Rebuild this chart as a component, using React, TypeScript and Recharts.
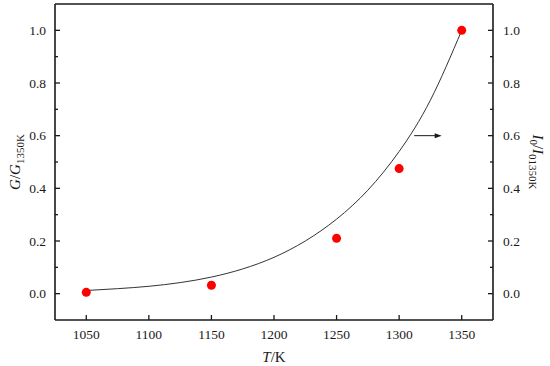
import React from "react";
import {
  ComposedChart,
  Line,
  Scatter,
  XAxis,
  YAxis,
  ReferenceLine,
} from "recharts";

// measured points
const tempPoints = [1050, 1150, 1250, 1300, 1350];
const ratioPoints = [0.005, 0.032, 0.21, 0.475, 1.0];

// fitted curve
const tempCurve = [1050, 1075, 1100, 1125, 1150, 1175, 1200, 1225, 1250, 1275, 1300, 1325, 1350];
const ratioCurve = [0.012, 0.019, 0.028, 0.042, 0.063, 0.094, 0.138, 0.2, 0.283, 0.393, 0.54, 0.735, 1.0];

const xTicks = [1050, 1075, 1100, 1125, 1150, 1175, 1200, 1225, 1250, 1275, 1300, 1325, 1350];
const xMajor = [1050, 1100, 1150, 1200, 1250, 1300, 1350];
const yTicks = [0, 0.1, 0.2, 0.3, 0.4, 0.5, 0.6, 0.7, 0.8, 0.9, 1.0];
const yMajor = ["0.0", "0.2", "0.4", "0.6", "0.8", "1.0"];

// arrow pointing at the right axis
const arrowFrom = [1312, 0.6];
const arrowTo = [1334, 0.6];

const points = tempPoints.map((t, i) => ({ t, v: ratioPoints[i] }));
const curve = tempCurve.map((t, i) => ({ t, v: ratioCurve[i] }));

const FONT = "'Liberation Serif', 'DejaVu Serif', serif";
const INK = "#1a1a1a";

const XTick = (props: any) => {
  const { x, y, payload } = props;
  const major = xMajor.includes(payload.value);
  return (
    <g>
      <line x1={x} x2={x} y1={y} y2={y - (major ? 5 : 3)} stroke={INK} strokeWidth={1.3} />
      {major && (
        <text x={x} y={y + 19} textAnchor="middle" fontSize={13.5} fill={INK} fontFamily={FONT}>
          {payload.value}
        </text>
      )}
    </g>
  );
};

const YTick = (props: any) => {
  const { x, y, payload, side } = props;
  const label = payload.value.toFixed(1);
  const major = yMajor.includes(label);
  const dir = side === "left" ? 1 : -1;
  return (
    <g>
      <line x1={x} x2={x + dir * (major ? 5 : 3)} y1={y} y2={y} stroke={INK} strokeWidth={1.3} />
      {major && (
        <text
          x={side === "left" ? x - 9 : x + 10}
          y={y + 4.5}
          textAnchor={side === "left" ? "end" : "start"}
          fontSize={13.5}
          fill={INK}
          fontFamily={FONT}
        >
          {label}
        </text>
      )}
    </g>
  );
};

const LeftTitle = (props: any) => {
  const { viewBox } = props;
  const cx = viewBox.x + 20;
  const cy = viewBox.y + viewBox.height / 2;
  return (
    <text x={cx} y={cy} transform={`rotate(-90, ${cx}, ${cy})`} textAnchor="middle" fontSize={15} fill={INK} fontFamily={FONT}>
      <tspan fontStyle="italic">G</tspan>
      <tspan>/</tspan>
      <tspan fontStyle="italic">G</tspan>
      <tspan fontSize={11} dy={4}>1350K</tspan>
    </text>
  );
};

const RightTitle = (props: any) => {
  const { viewBox } = props;
  const cx = viewBox.x + 40;
  const cy = viewBox.y + viewBox.height / 2;
  return (
    <text x={cx} y={cy} transform={`rotate(90, ${cx}, ${cy})`} textAnchor="middle" fontSize={15} fill={INK} fontFamily={FONT}>
      <tspan fontStyle="italic">I</tspan>
      <tspan fontSize={11} dy={3}>0</tspan>
      <tspan dy={-3}>/</tspan>
      <tspan fontStyle="italic">I</tspan>
      <tspan fontSize={11} dy={4}>01350K</tspan>
    </text>
  );
};

const XTitle = (props: any) => {
  const { viewBox } = props;
  const cx = viewBox.x + viewBox.width / 2;
  return (
    <text x={cx} y={viewBox.y + 42} textAnchor="middle" fontSize={15} fill={INK} fontFamily={FONT}>
      <tspan fontStyle="italic">T</tspan>
      <tspan>/K</tspan>
    </text>
  );
};

const Arrow = (props: any) => {
  const { x1, y1, x2, y2 } = props;
  return (
    <g>
      <line x1={x1} y1={y1} x2={x2 - 4} y2={y2} stroke={INK} strokeWidth={1} />
      <polygon points={`${x2},${y2} ${x2 - 7},${y2 - 2.5} ${x2 - 7},${y2 + 2.5}`} fill={INK} />
    </g>
  );
};

export default function App() {
  return (
    <div style={{ position: "absolute", left: 0, top: 0, width: 550, height: 366, background: "#fff" }}>
      <ComposedChart width={550} height={366} margin={{ top: 4, right: 0, left: 0, bottom: 0 }}>
        <XAxis
          type="number"
          dataKey="t"
          domain={[1025, 1375]}
          ticks={xTicks}
          allowDataOverflow
          height={46}
          tickSize={0}
          tickMargin={0}
          tickLine={false}
          axisLine={{ stroke: INK, strokeWidth: 1.6 }}
          tick={<XTick />}
          label={<XTitle />}
        />
        <YAxis
          yAxisId="left"
          type="number"
          domain={[-0.1, 1.1]}
          ticks={yTicks}
          allowDataOverflow
          width={55}
          tickSize={0}
          tickMargin={0}
          tickLine={false}
          axisLine={{ stroke: INK, strokeWidth: 1.6 }}
          tick={<YTick side="left" />}
          label={<LeftTitle />}
        />
        <YAxis
          yAxisId="right"
          orientation="right"
          type="number"
          domain={[-0.1, 1.1]}
          ticks={yTicks}
          allowDataOverflow
          width={57}
          tickSize={0}
          tickMargin={0}
          tickLine={false}
          axisLine={{ stroke: INK, strokeWidth: 1.6 }}
          tick={<YTick side="right" />}
          label={<RightTitle />}
        />
        <ReferenceLine yAxisId="left" y={1.1} stroke={INK} strokeWidth={1.6} />
        <ReferenceLine
          yAxisId="left"
          segment={[
            { x: arrowFrom[0], y: arrowFrom[1] },
            { x: arrowTo[0], y: arrowTo[1] },
          ]}
          shape={<Arrow />}
        />
        <Line
          yAxisId="left"
          data={curve}
          dataKey="v"
          type="natural"
          stroke="#333"
          strokeWidth={1}
          dot={false}
          isAnimationActive={false}
        />
        <Scatter
          yAxisId="left"
          data={points}
          dataKey="v"
          fill="#ff0000"
          shape={(p: any) => <circle cx={p.cx} cy={p.cy} r={4.5} fill="#ff0000" />}
          isAnimationActive={false}
        />
      </ComposedChart>
    </div>
  );
}
